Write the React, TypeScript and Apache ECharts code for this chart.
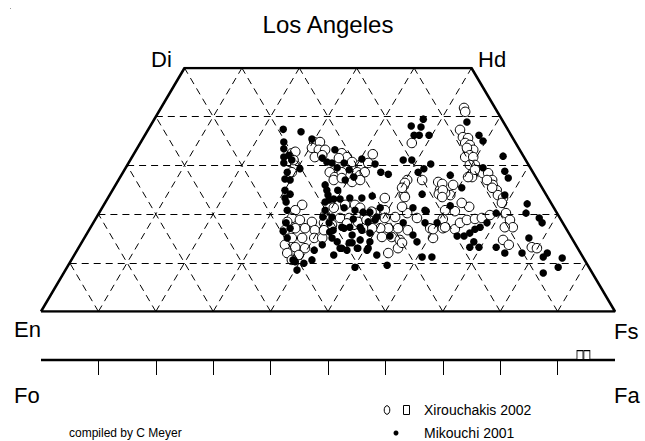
import React, { useEffect, useRef } from "react";
import * as echarts from "echarts";

// Quadrilateral coordinates: [position along En–Fs base (0..100), Wo (0..50)]
const XIROUCHAKIS_PYX: [number, number][] = [
  [47.6,34.8],[48.6,34.8],[47.2,33.6],[48.4,33.2],[49.5,33.2],[47.7,31.7],[49.0,32.1],[52.4,32.5],[53.3,31.7],[51.9,31.5],[54.2,30.7],[55.6,30.1],[50.3,28.6],[51.2,27.6],[52.4,28.6],[55.1,28.6],[51.0,27.0],[43.7,32.5],[43.4,30.7],[44.3,30.1],[43.7,28.6],[52.4,27.4],[54.2,26.6],[55.6,28.0],
  [45.5,21.9],[44.3,20.8],[43.7,19.2],[45.1,18.8],[42.9,18.4],[42.5,16.7],[44.3,17.1],[46.0,17.1],[47.2,18.4],[47.7,16.7],[43.7,15.1],[45.5,15.1],[47.6,15.1],[42.5,13.7],[44.3,13.2],[46.0,13.0],[42.9,12.0],[44.9,11.6],[49.0,15.1],[49.5,19.8],[49.3,18.2],[51.0,21.3],[52.1,19.2],[53.7,19.2],[53.0,21.9],[54.7,21.9],[54.5,17.8],[49.3,16.7],[43.7,10.6],[50.7,17.8],
  [64.6,34.6],[57.8,32.3],[57.0,30.5],[56.4,28.6],[55.6,27.0],[63.8,27.0],[66.4,27.0],[63.2,25.8],[63.2,23.9],[69.2,26.6],[69.5,24.9],[59.9,23.3],
  [63.4,23.5],[55.6,21.3],[59.9,20.8],[56.4,19.4],[58.2,20.2],[59.9,19.2],[61.7,19.4],[63.8,20.2],[62.9,21.5],[65.5,19.2],[60.5,17.1],[62.2,17.1],[63.9,16.7],[59.1,17.1],[57.7,17.1],[56.1,17.1],[55.2,18.4],[59.4,15.3],[61.1,15.3],[62.5,14.7],[62.2,13.0],[60.5,12.0],[67.8,17.1],[68.3,15.1],[70.0,17.1],
  [73.7,41.8],[73.9,41.0],[73.0,37.3],[73.5,35.8],[74.4,35.6],[73.9,34.6],[74.7,34.2],[75.3,33.2],[74.2,33.6],[74.7,32.1],[73.9,31.7],[75.3,31.7],[75.6,30.1],[75.3,28.6],[75.1,27.6],[74.4,27.6],[77.0,28.4],[77.9,28.4],[78.6,27.0],[78.7,26.0],[79.4,24.9],[79.6,23.9],[80.5,23.3],[71.3,23.9],[70.4,24.3],
  [80.3,22.3],[81.0,20.2],[81.7,18.8],[82.2,17.3],[80.8,17.3],[80.5,14.7],[81.5,13.7],[85.5,13.2],[86.4,13.0],
  [72.1,16.9],[73.0,18.2],[74.2,18.8],[75.6,19.0],[76.8,19.2],[78.2,19.8],[74.6,21.5],[73.3,22.3],[72.1,20.6],[70.4,20.8],[70.0,19.0],[70.4,17.3],[68.3,16.9],[62.9,14.1],[69.3,24.1],[69.9,26.2],[71.8,26.0],
  [74.7,30.1],[75.6,29.1],[77.7,27.0],[78.6,25.4],[63.4,26.4],[62.9,25.4],[70.0,24.9],[69.9,23.5],
  [57.6,20.5],[56.7,18.8],[53.3,18.1],[44.3,32.8],[44.0,31.1]
];

const MIKOUCHI_PYX: [number, number][] = [
  [42.2,37.4],[45.3,36.9],[42.3,34.8],[42.3,33.4],[42.3,31.7],[42.3,30.5],[43.7,31.1],[43.2,32.1],[42.9,28.6],[42.5,27.2],[43.4,27.0],[45.1,29.3],[42.5,24.9],[43.4,24.1],[47.2,35.4],[51.2,33.2],[49.0,31.5],[49.8,30.7],[50.7,30.5],[52.8,30.5],[51.6,29.5],[53.7,29.1],[53.0,27.0],[54.5,27.6],[49.5,26.0],[49.8,24.9],[52.1,23.1],[53.8,23.3],[51.0,23.1],
  [42.9,20.8],[42.5,23.3],[49.5,20.8],[50.2,22.9],[52.8,21.3],[54.7,20.8],[50.7,19.4],[50.3,16.3],[52.8,17.1],[54.2,15.7],[53.7,14.1],[51.6,14.3],[50.7,15.1],[51.0,11.6],[52.4,13.0],[55.1,13.0],[49.0,13.7],[47.6,12.6],[42.9,15.1],[43.4,17.1],[44.3,10.2],[45.8,9.9],[44.6,8.5],[47.2,10.6],[54.7,9.1],
  [66.6,39.5],[64.5,38.1],[66.2,37.9],[65.0,36.2],[65.9,36.2],[67.6,36.2],[63.1,31.1],[64.6,31.1],[65.7,28.6],[66.7,29.3],[67.9,30.3],[55.9,31.3],[58.2,30.3],[59.2,28.6],[60.5,28.2],[66.4,24.1],[55.9,23.3],[57.7,23.7],
  [57.3,20.4],[59.1,21.3],[58.2,18.8],[66.9,20.8],[64.8,21.3],[66.9,18.2],[69.0,18.2],[63.1,18.2],[64.8,15.7],[65.5,14.3],[55.9,16.7],[57.3,16.1],[55.6,14.7],[57.3,14.3],[55.2,13.0],[57.0,13.0],[58.5,11.6],[66.4,11.2],[68.1,11.2],[60.3,9.5],
  [74.2,38.9],[76.3,36.2],[77.0,35.0],[80.5,31.9],[77.0,29.5],[80.8,28.8],[81.4,27.4],[71.3,28.0],[73.3,25.4],[80.8,23.9],[84.7,22.1],
  [84.5,20.2],[86.8,19.2],[87.3,18.2],[79.3,20.2],[85.0,15.1],[79.3,13.2],[80.8,12.0],[83.8,12.0],[87.5,11.2],[88.2,12.0],[90.8,11.0],[90.1,9.1],[87.5,7.9],
  [72.5,15.5],[73.7,15.5],[74.7,16.1],[75.6,16.9],[76.5,17.3],[77.7,18.2],[75.4,14.3],[74.7,13.2],[76.3,13.2],[71.3,21.7],[67.1,20.6],[60.8,15.5],
  [42.7,22.5],[42.7,18.2],[42.2,16.5],[43.9,10.6],[50.0,23.9],[51.7,24.9],[49.5,22.5],[50.2,18.2],[53.3,12.6],[56.8,12.6],[54.2,14.1],[53.8,17.3],[55.6,17.3],[57.0,18.4],[58.5,19.4],[56.1,20.4],[49.1,19.4],[50.9,16.7],[52.4,17.3],[54.4,19.0],[52.1,13.0]
];

const XIROUCHAKIS_OLIVINE_FA: number[] = [93.9, 95.1];
const FO_FA_TICKS: number[] = [10, 20, 30, 40, 50, 60, 70, 80, 90];
const WO_LEVELS: number[] = [10, 20, 30, 40];
const BASE_STEPS: number[] = [10, 20, 30, 40, 50, 60, 70, 80, 90];
const QUAD_OUTLINE: [number, number][] = [[0, 0], [25, 50], [75, 50], [100, 0], [0, 0]];

const FONT = '"Liberation Sans", Arial, sans-serif';

export default function App() {
  const ref = useRef<HTMLDivElement>(null);
  useEffect(() => {
    document.body.style.margin = "0";
    const chart = echarts.init(ref.current!, null, { renderer: "svg" });

    const lattice: any[] = [];
    WO_LEVELS.forEach((w) => lattice.push([{ coord: [w / 2, w] }, { coord: [100 - w / 2, w] }]));
    BASE_STEPS.forEach((f) => {
      lattice.push([{ coord: [f, 0] }, f <= 50 ? { coord: [f + 25, 50] } : { coord: [f + (100 - f) / 2, 100 - f] }]);
      lattice.push([{ coord: [f, 0] }, f >= 50 ? { coord: [f - 25, 50] } : { coord: [f / 2, f] }]);
    });
    const ticks = FO_FA_TICKS.map((t) => [{ coord: [t, 0] }, { coord: [t, -1] }]);

    const txt = (text: string, x: number, y: number, size: number, align = "left") => ({
      type: "text",
      x,
      y,
      silent: true,
      style: { text, font: `${size}px ${FONT}`, fill: "#000", textAlign: align, textVerticalAlign: "middle" },
    });

    chart.setOption({
      animation: false,
      grid: [
        { left: 41, top: 68, width: 574, height: 243.5 },
        { left: 41, top: 345, width: 574, height: 30 },
      ],
      xAxis: [
        { type: "value", gridIndex: 0, min: 0, max: 100, show: false },
        { type: "value", gridIndex: 1, min: 0, max: 100, show: false },
      ],
      yAxis: [
        { type: "value", gridIndex: 0, min: 0, max: 50, show: false },
        { type: "value", gridIndex: 1, min: -1, max: 1, show: false },
      ],
      series: [
        {
          type: "line",
          xAxisIndex: 0,
          yAxisIndex: 0,
          data: QUAD_OUTLINE,
          symbol: "none",
          silent: true,
          z: 3,
          lineStyle: { color: "#000", width: 2.5 },
          markLine: {
            silent: true,
            symbol: ["none", "none"],
            label: { show: false },
            lineStyle: { color: "#000", width: 1, type: [7, 5] },
            emphasis: { disabled: true },
            data: lattice,
          },
        },
        {
          name: "Xirouchakis 2002",
          type: "scatter",
          xAxisIndex: 0,
          yAxisIndex: 0,
          data: XIROUCHAKIS_PYX,
          symbol: "circle",
          symbolSize: 9.5,
          z: 4,
          itemStyle: { color: "#fff", borderColor: "#000", borderWidth: 1, opacity: 1 },
        },
        {
          name: "Mikouchi 2001",
          type: "scatter",
          xAxisIndex: 0,
          yAxisIndex: 0,
          data: MIKOUCHI_PYX,
          symbol: "circle",
          symbolSize: 7.5,
          z: 5,
          itemStyle: { color: "#000", opacity: 1 },
        },
        {
          type: "line",
          xAxisIndex: 1,
          yAxisIndex: 1,
          data: [[0, 0], [100, 0]],
          symbol: "none",
          silent: true,
          lineStyle: { color: "#000", width: 2.5 },
          markLine: {
            silent: true,
            symbol: ["none", "none"],
            label: { show: false },
            lineStyle: { color: "#000", width: 1, type: "solid" },
            emphasis: { disabled: true },
            data: ticks,
          },
        },
        {
          name: "Xirouchakis 2002 olivine",
          type: "scatter",
          xAxisIndex: 1,
          yAxisIndex: 1,
          data: XIROUCHAKIS_OLIVINE_FA.map((fa) => [fa, 0.33]),
          symbol: "rect",
          symbolSize: [6, 9],
          z: 4,
          itemStyle: { color: "#fff", borderColor: "#000", borderWidth: 1, opacity: 1 },
        },
      ],
      graphic: [
        { type: "rect", silent: true, shape: { x: 10, y: 8, width: 1, height: 1 }, style: { fill: "#999" } },
        txt("Los Angeles", 328, 24, 24, "center"),
        txt("Di", 151, 59, 22),
        txt("Hd", 478, 59, 22),
        txt("En", 14, 329, 22),
        txt("Fs", 614, 331, 22),
        txt("Fo", 14, 395, 22),
        txt("Fa", 614, 395, 22),
        { type: "ellipse", silent: true, shape: { cx: 387, cy: 410, rx: 2.8, ry: 4.3 }, style: { fill: "#fff", stroke: "#000", lineWidth: 1 } },
        { type: "rect", silent: true, shape: { x: 403.5, y: 405.5, width: 6, height: 9 }, style: { fill: "#fff", stroke: "#000", lineWidth: 1 } },
        txt("Xirouchakis 2002", 424, 410, 14),
        { type: "circle", silent: true, shape: { cx: 396, cy: 433, r: 2.5 }, style: { fill: "#000" } },
        txt("Mikouchi 2001", 424, 433, 14),
        txt("compiled by C Meyer", 69, 433, 12),
      ],
    });
    return () => chart.dispose();
  }, []);
  return <div ref={ref} style={{ width: 645, height: 441 }} />;
}
